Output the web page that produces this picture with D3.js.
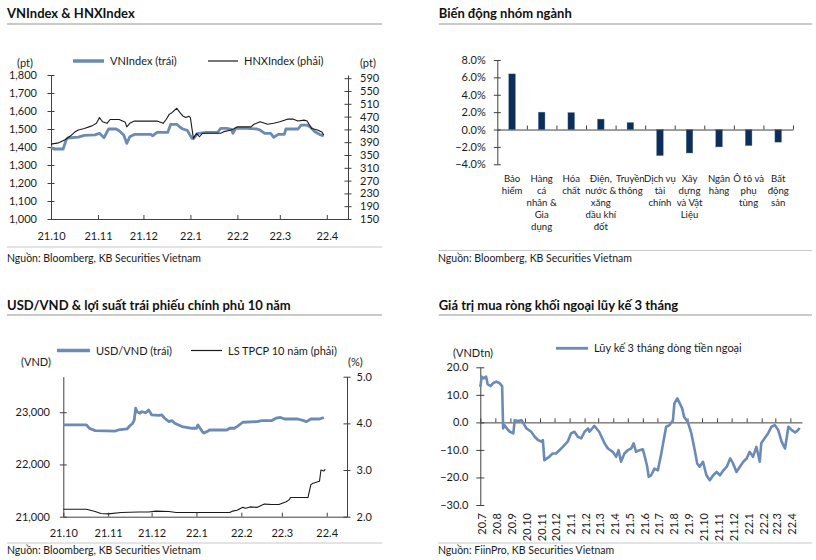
<!DOCTYPE html>
<html><head><meta charset="utf-8">
<script src="https://cdn.jsdelivr.net/npm/d3@7"></script>
<style>
body{margin:0;background:#fff;}
svg{display:block;font-family:Lato,'Open Sans',sans-serif;}
</style></head><body>
<svg id="c" width="816" height="560"></svg>
<script>
// ---------- DATA ----------
const monthTickDates = ["2021-10-01","2021-11-01","2021-12-01","2022-01-01","2022-02-01","2022-03-01","2022-04-01"];
const monthTickLabels = ["21.10","21.11","21.12","22.1","22.2","22.3","22.4"];

const vnDates = ["2021-10-01","2021-10-03","2021-10-09","2021-10-11","2021-10-12","2021-10-19","2021-10-23","2021-10-30","2021-11-02","2021-11-05","2021-11-08","2021-11-13","2021-11-15","2021-11-18","2021-11-20","2021-11-22","2021-11-25","2021-12-06","2021-12-07","2021-12-10","2021-12-17","2021-12-19","2021-12-23","2021-12-25","2021-12-27","2021-12-30","2022-01-02","2022-01-03","2022-01-04","2022-01-06","2022-01-12","2022-01-19","2022-01-21","2022-01-25","2022-01-28","2022-01-29","2022-01-31","2022-02-07","2022-02-14","2022-02-16","2022-02-19","2022-02-23","2022-02-25","2022-02-28","2022-03-04","2022-03-05","2022-03-13","2022-03-15","2022-03-19","2022-03-21","2022-03-24","2022-03-26","2022-03-28","2022-03-30"];
const vnValues = [1398,1389,1389,1439,1450,1455,1465,1467,1476,1452,1500,1500,1490,1467,1420,1457,1470,1470,1462,1481,1481,1526,1526,1511,1500,1492,1448,1446,1457,1476,1481,1481,1504,1504,1498,1476,1504,1504,1500,1494,1476,1476,1454,1470,1470,1500,1500,1522,1522,1511,1486,1476,1467,1462];

const hnxDates = ["2021-10-01","2021-10-06","2021-10-10","2021-10-14","2021-10-17","2021-10-19","2021-10-23","2021-10-28","2021-10-31","2021-11-02","2021-11-04","2021-11-07","2021-11-09","2021-11-15","2021-11-19","2021-11-20","2021-11-22","2021-11-25","2021-12-10","2021-12-14","2021-12-16","2021-12-18","2021-12-20","2021-12-23","2021-12-25","2021-12-27","2021-12-29","2021-12-31","2022-01-01","2022-01-02","2022-01-03","2022-01-05","2022-01-07","2022-01-09","2022-01-21","2022-01-23","2022-01-28","2022-01-30","2022-02-01","2022-02-10","2022-02-12","2022-02-16","2022-02-21","2022-02-25","2022-03-01","2022-03-06","2022-03-10","2022-03-13","2022-03-17","2022-03-19","2022-03-22","2022-03-26","2022-03-29","2022-03-30"];
const hnxValues = [384,388,397,410,423,428,433,441,449,467,454,449,461,461,452,438,449,456,456,449,461,477,483,496,483,472,467,471,467,433,402,418,407,418,418,423,428,433,438,438,446,454,446,449,454,462,462,456,459,456,433,428,421,412];

const vnTicks = [1000,1100,1200,1300,1400,1500,1600,1700,1800];
const hnxTicks = [150,190,230,270,310,350,390,430,470,510,550,590];

const sectorLabels = [["Bảo","hiểm"],["Hàng","cá","nhân &","Gia","dụng"],["Hóa","chất"],["Điện,","nước &","xăng","dầu khí","đốt"],["Truyền","thông"],["Dịch vụ","tài","chính"],["Xây","dựng","và Vật","Liệu"],["Ngân","hàng"],["Ô tô và","phụ","tùng"],["Bất","động","sản"]];
const sectorValues = [6.4,2.0,1.95,1.2,0.8,-3.0,-2.7,-2.0,-1.85,-1.45];
const sectorTicks = [-4,-2,0,2,4,6,8];

const usdDates = ["2021-10-01","2021-10-17","2021-10-19","2021-10-23","2021-11-06","2021-11-08","2021-11-14","2021-11-16","2021-11-18","2021-11-19","2021-11-20","2021-11-21","2021-11-23","2021-11-24","2021-11-27","2021-11-29","2021-12-01","2021-12-06","2021-12-08","2021-12-10","2021-12-13","2021-12-15","2021-12-17","2021-12-22","2021-12-29","2022-01-01","2022-01-02","2022-01-05","2022-01-06","2022-01-09","2022-01-10","2022-01-22","2022-01-24","2022-01-27","2022-01-29","2022-02-02","2022-02-12","2022-02-15","2022-02-22","2022-02-25","2022-02-28","2022-03-03","2022-03-12","2022-03-16","2022-03-18","2022-03-21","2022-03-27","2022-03-30"];
const usdValues = [22757,22757,22693,22648,22640,22660,22680,22740,22789,22850,23077,23010,22980,23010,22990,23045,22950,22940,22950,22885,22820,22840,22790,22725,22693,22693,22757,22630,22600,22640,22660,22660,22693,22693,22725,22808,22820,22840,22840,22885,22900,22870,22870,22840,22820,22870,22870,22900];

const bondDates = ["2021-10-01","2021-10-17","2021-10-23","2021-10-27","2021-11-01","2021-11-10","2021-11-22","2021-11-29","2021-12-04","2021-12-13","2021-12-18","2022-01-24","2022-01-26","2022-01-29","2022-02-02","2022-02-04","2022-02-07","2022-02-12","2022-02-17","2022-02-22","2022-02-27","2022-03-04","2022-03-06","2022-03-07","2022-03-19","2022-03-21","2022-03-22","2022-03-27","2022-03-28","2022-03-30","2022-03-31"];
const bondValues = [2.16,2.16,2.11,2.07,2.06,2.09,2.10,2.10,2.12,2.11,2.09,2.09,2.12,2.14,2.20,2.18,2.21,2.20,2.27,2.26,2.26,2.32,2.36,2.41,2.41,2.68,2.71,2.76,3.00,2.98,3.02];

const usdTicks = [21000,22000,23000];
const bondTicks = [2,3,4,5];

const flowDates = ["2020-07-01","2020-07-04","2020-07-08","2020-07-13","2020-07-16","2020-07-22","2020-07-27","2020-08-03","2020-08-10","2020-08-15","2020-08-17","2020-08-20","2020-08-26","2020-08-31","2020-09-07","2020-09-10","2020-09-17","2020-09-24","2020-09-27","2020-10-04","2020-10-14","2020-10-21","2020-10-28","2020-11-04","2020-11-07","2020-11-10","2020-11-20","2020-11-27","2020-12-04","2020-12-11","2020-12-18","2020-12-28","2021-01-04","2021-01-11","2021-01-18","2021-01-25","2021-02-01","2021-02-08","2021-02-11","2021-02-21","2021-03-03","2021-03-14","2021-03-21","2021-03-31","2021-04-07","2021-04-12","2021-04-17","2021-04-24","2021-05-01","2021-05-08","2021-05-13","2021-05-18","2021-05-25","2021-06-01","2021-06-06","2021-06-10","2021-06-13","2021-06-18","2021-06-25","2021-07-02","2021-07-09","2021-07-14","2021-07-19","2021-07-26","2021-08-02","2021-08-05","2021-08-11","2021-08-16","2021-08-21","2021-08-25","2021-08-30","2021-09-02","2021-09-09","2021-09-16","2021-09-21","2021-09-26","2021-10-03","2021-10-10","2021-10-17","2021-10-24","2021-10-31","2021-11-07","2021-11-14","2021-11-21","2021-11-28","2021-12-04","2021-12-11","2021-12-18","2021-12-25","2022-01-01","2022-01-07","2022-01-14","2022-01-21","2022-01-28","2022-01-31","2022-02-07","2022-02-14","2022-02-21","2022-02-28","2022-03-07","2022-03-14","2022-03-21","2022-03-28","2022-04-04","2022-04-11","2022-04-17","2022-04-20"];
const flowValues = [12.9,16.6,16.0,16.6,13.9,13.2,14.2,14.8,14.2,13.2,-2.2,-1.0,-2.5,-3.4,-4.0,0.8,0.5,0.8,-0.1,-2.2,-3.4,-5.2,-6.4,-7.0,-6.4,-13.7,-12.5,-11.3,-11.3,-10.1,-8.9,-7.0,-4.0,-3.4,-5.2,-5.8,-3.4,-2.2,-3.4,-1.3,-3.4,-7.6,-9.5,-10.7,-12.5,-10.1,-14.3,-11.3,-10.1,-9.5,-7.6,-10.7,-10.1,-9.8,-13.1,-16.1,-19.8,-19.2,-16.8,-17.4,-11.3,-6.4,-1.6,-1.0,0.8,6.9,8.7,6.9,5.1,2.0,0.8,-0.1,-4.0,-10.1,-14.9,-16.1,-14.3,-19.2,-21.0,-19.2,-18.0,-19.2,-17.4,-16.1,-13.1,-14.9,-18.0,-16.1,-14.3,-13.1,-10.7,-12.5,-8.9,-14.3,-7.6,-5.8,-4.0,-1.6,-1.0,-2.8,-7.0,-9.5,-1.6,-2.8,-3.7,-2.8,-2.0];
const flowTicks = [-30,-20,-10,0,10,20];
const flowTickLabels = ["20.7","20.8","20.9","20.10","20.11","20.12","21.1","21.2","21.3","21.4","21.5","21.6","21.7","21.8","21.9","21.10","21.11","21.12","22.1","22.2","22.3","22.4"];

// ---------- SETUP ----------
const parse = d3.timeParse("%Y-%m-%d");
const svg = d3.select("#c");
const AX = "#404040";
const BLUE = "#6b8bb6";
const TXT = "#1a1a1a";

function header(x0, x1, yTitle, yRule, title) {
  svg.append("text").attr("x", x0).attr("y", yTitle).attr("font-size", 13).attr("font-weight", 700)
    .attr("fill", "#111").text(title);
  svg.append("line").attr("x1", x0).attr("x2", x1).attr("y1", yRule).attr("y2", yRule)
    .attr("stroke", "#b8b8b8").attr("stroke-width", 1.5);
}
function footer(x0, x1, yRule, yText, txt) {
  svg.append("line").attr("x1", x0).attr("x2", x1).attr("y1", yRule).attr("y2", yRule)
    .attr("stroke", "#c8c8c8").attr("stroke-width", 1);
  svg.append("text").attr("x", x0).attr("y", yText).attr("font-size", 10.5).attr("fill", TXT).text(txt);
}
function styleAxis(g, cross, dir) {
  g.select(".domain").attr("stroke", AX).attr("stroke-width", 1);
  g.selectAll(".tick line").attr("stroke", AX);
  if (cross) g.selectAll(".tick line").attr(dir === "v" ? "y1" : "x1", -3.5).attr(dir === "v" ? "y2" : "x2", 3.5);
  g.selectAll(".tick text").attr("fill", TXT).attr("font-size", 11).attr("font-family", "Lato,'Open Sans',sans-serif");
}
function legendItem(x, y, w, color, sw, label) {
  svg.append("line").attr("x1", x).attr("x2", x + w).attr("y1", y).attr("y2", y)
    .attr("stroke", color).attr("stroke-width", sw);
  svg.append("text").attr("x", x + w + 6).attr("y", y + 4).attr("font-size", 11).attr("fill", TXT).text(label);
}
function label(x, y, t, anchor) {
  svg.append("text").attr("x", x).attr("y", y).attr("font-size", 11).attr("fill", TXT)
    .attr("text-anchor", anchor || "start").text(t);
}

function dual(o) {
  const x = d3.scaleTime().domain([parse("2021-10-01"), parse("2022-04-15")]).range([o.x0, o.x1]);
  const yL = d3.scaleLinear().domain(o.lDom).range([o.yB, o.yT]);
  const yR = d3.scaleLinear().domain(o.rDom).range([o.yB, o.yT]);
  const gl = svg.append("g").attr("transform", `translate(${o.x0},0)`)
    .call(d3.axisLeft(yL).tickValues(o.lTicks).tickFormat(d3.format(",")).tickSize(3.5).tickPadding(o.lPad).tickSizeOuter(0));
  styleAxis(gl, true, "h");
  const gr = svg.append("g").attr("transform", `translate(${o.x1},0)`)
    .call(d3.axisRight(yR).tickValues(o.rTicks).tickFormat(o.rFmt).tickSize(3.5).tickPadding(o.rPad).tickSizeOuter(0));
  styleAxis(gr, true, "h");
  const gx = svg.append("g").attr("transform", `translate(0,${o.yB})`)
    .call(d3.axisBottom(x).tickValues(monthTickDates.map(parse)).tickFormat((d, i) => monthTickLabels[i])
      .tickSize(-4).tickPadding(o.xPad).tickSizeOuter(0));
  styleAxis(gx, false);
  const lnL = d3.line().x(d => x(d[0])).y(d => yL(d[1]));
  const lnR = d3.line().x(d => x(d[0])).y(d => yR(d[1]));
  svg.append("path").datum(o.lDates.map((d, i) => [parse(d), o.lVals[i]]))
    .attr("d", lnL).attr("fill", "none").attr("stroke", BLUE).attr("stroke-width", 2.8).attr("stroke-linejoin", "round");
  svg.append("path").datum(o.rDates.map((d, i) => [parse(d), o.rVals[i]]))
    .attr("d", lnR).attr("fill", "none").attr("stroke", "#1a1a1a").attr("stroke-width", 1.1).attr("stroke-linejoin", "round");
}

// ---------- PANEL 1 ----------
header(7, 382, 18, 24, "VNIndex & HNXIndex");
legendItem(73, 61, 31, BLUE, 3.5, "VNIndex (trái)");
legendItem(208, 61, 30, "#1a1a1a", 1.2, "HNXIndex (phải)");
label(25, 67, "(pt)", "middle");
label(360, 67, "(pt)");
dual({x0: 51, x1: 348, yB: 219, yT: 75, lDom: [1000, 1800], rDom: [150, 600],
  lTicks: vnTicks, rTicks: hnxTicks, rFmt: d3.format("d"), lPad: 10.5, rPad: 8.5, xPad: 13,
  lDates: vnDates, lVals: vnValues, rDates: hnxDates, rVals: hnxValues});
footer(7, 382, 247, 262, "Nguồn: Bloomberg, KB Securities Vietnam");

// ---------- PANEL 2 ----------
header(438.7, 812, 18, 24, "Biến động nhóm ngành");
(function () {
  const x0 = 497.3, x1 = 793;
  const y = d3.scaleLinear().domain([-4, 8]).range([164.3, 60]);
  const xb = d3.scaleBand().domain(d3.range(sectorValues.length)).range([x0, x1]).padding(0);
  const gy = svg.append("g").attr("transform", `translate(${x0},0)`)
    .call(d3.axisLeft(y).tickValues(sectorTicks).tickFormat(d => d3.format(".1f")(d) + "%").tickSize(3.5).tickPadding(8).tickSizeOuter(0));
  styleAxis(gy, true, "h");
  svg.append("g").selectAll("rect").data(sectorValues).join("rect")
    .attr("x", (d, i) => xb(i) + xb.bandwidth() / 2 - 3.3).attr("width", 6.6)
    .attr("y", d => y(Math.max(0, d))).attr("height", d => Math.abs(y(d) - y(0)))
    .attr("fill", "#0b2e5b").attr("stroke", "#5f7896").attr("stroke-width", 0.4);
  const xi = d3.scaleLinear().domain([0, sectorValues.length]).range([x0, x1]);
  const gx = svg.append("g").attr("transform", `translate(0,${y(0)})`)
    .call(d3.axisTop(xi).tickValues(d3.range(1, sectorValues.length + 1)).tickFormat("").tickSize(4).tickSizeOuter(0));
  styleAxis(gx, false);
  const lab = svg.append("g").selectAll("text").data(sectorLabels).join("text")
    .attr("text-anchor", "middle").attr("font-size", 9.6).attr("fill", TXT)
    .attr("transform", (d, i) => `translate(${xb(i) + xb.bandwidth() / 2},181.5)`);
  lab.selectAll("tspan").data(d => d).join("tspan").attr("x", 0).attr("y", (d, i) => i * 12).text(d => d);
})();
footer(438, 812, 250.5, 262, "Nguồn: Bloomberg, KB Securities Vietnam");

// ---------- PANEL 3 ----------
header(7, 382, 309.5, 315, "USD/VND & lợi suất trái phiếu chính phủ 10 năm");
legendItem(57, 350.5, 33, BLUE, 3.5, "USD/VND (trái)");
legendItem(191, 350.5, 31, "#1a1a1a", 1.2, "LS TPCP 10 năm (phải)");
label(21, 365.5, "(VND)");
label(348, 365.5, "(%)");
dual({x0: 63.3, x1: 347, yB: 516.7, yT: 376.7, lDom: [21000, 23680], rDom: [2, 5],
  lTicks: usdTicks, rTicks: bondTicks, rFmt: d3.format(".1f"), lPad: 9.8, rPad: 6, xPad: 12.8,
  lDates: usdDates, lVals: usdValues, rDates: bondDates, rVals: bondValues});
footer(7, 382, 543, 554, "Nguồn: Bloomberg, KB Securities Vietnam");

// ---------- PANEL 4 ----------
header(438.7, 812, 309.5, 315, "Giá trị mua ròng khối ngoại lũy kế 3 tháng");
legendItem(556, 348.3, 32, BLUE, 2.8, "Lũy kế 3 tháng dòng tiền ngoại");
label(453, 357, "(VNDtn)");
(function () {
  const x0 = 480.3, x1 = 802;
  const x = d3.scaleTime().domain([parse("2020-07-01"), parse("2022-04-25")]).range([x0, x1]);
  const y = d3.scaleLinear().domain([-30, 20]).range([505, 367.3]);
  const gy = svg.append("g").attr("transform", `translate(${x0},0)`)
    .call(d3.axisLeft(y).tickValues(flowTicks).tickFormat(d3.format(".1f")).tickSize(4).tickPadding(8).tickSizeOuter(0));
  styleAxis(gy, true, "h");
  gy.selectAll(".tick line").attr("x1", -4).attr("x2", 4);
  const months = d3.timeMonth.range(parse("2020-07-01"), parse("2022-04-02"));
  const gx = svg.append("g").attr("transform", `translate(0,${y(0)})`)
    .call(d3.axisTop(x).tickValues(months).tickFormat("").tickSize(4).tickSizeOuter(0));
  styleAxis(gx, false);
  svg.append("g").selectAll("text").data(months).join("text")
    .attr("transform", d => `translate(${x(d) + 2},513) rotate(-90)`)
    .attr("text-anchor", "end").attr("dy", "0.35em").attr("font-size", 11).attr("fill", TXT)
    .text((d, i) => flowTickLabels[i]);
  const ln = d3.line().x(d => x(d[0])).y(d => y(d[1]));
  svg.append("path").datum(flowDates.map((d, i) => [parse(d), flowValues[i]]))
    .attr("d", ln).attr("fill", "none").attr("stroke", BLUE).attr("stroke-width", 2.6).attr("stroke-linejoin", "round");
})();
footer(438, 812, 543, 554, "Nguồn: FiinPro, KB Securities Vietnam");
</script>
</body></html>
